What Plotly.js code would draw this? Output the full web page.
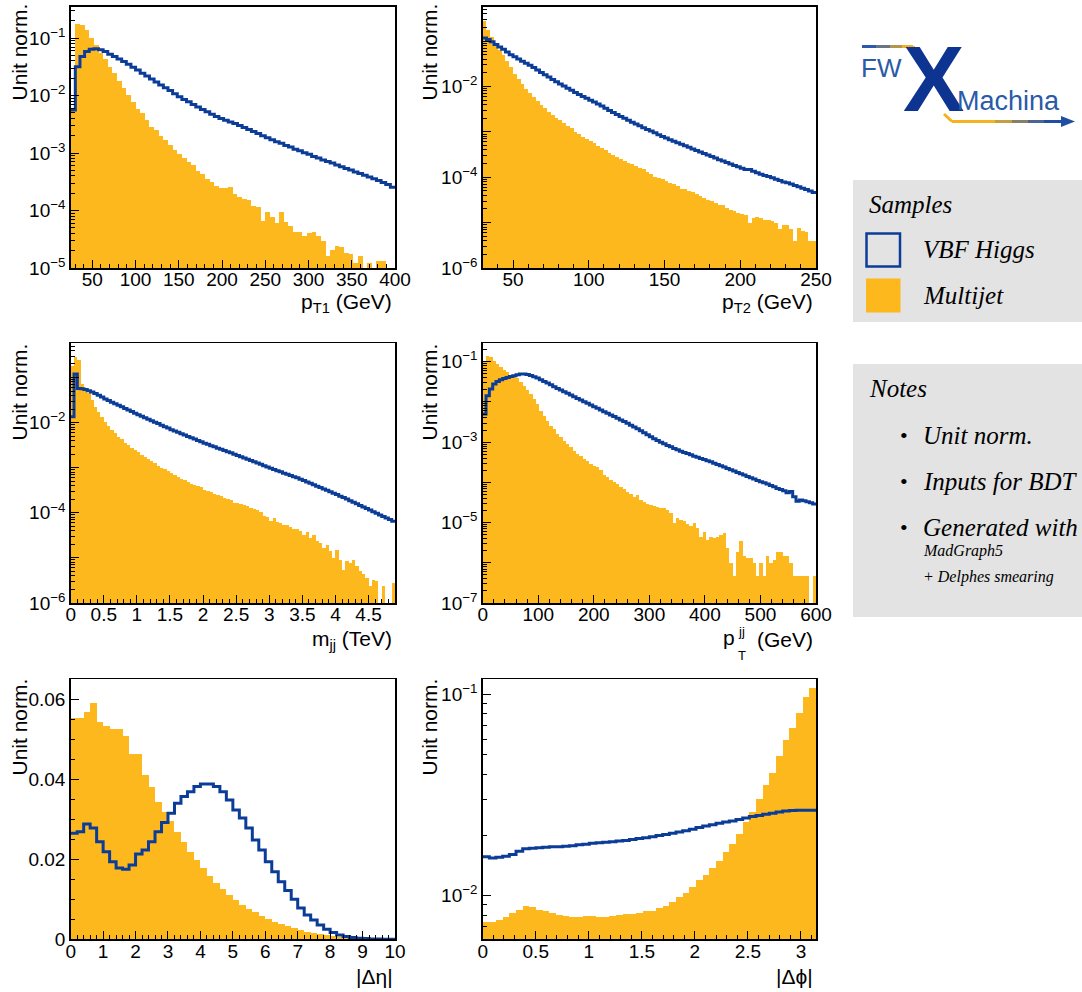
<!DOCTYPE html>
<html><head><meta charset="utf-8">
<script src="https://cdn.plot.ly/plotly-3.0.1.min.js"></script>
<style>html,body{margin:0;padding:0;background:#fff}#chart{width:1082px;height:992px}</style>
</head><body><div id="chart"></div>
<script>
// ---------------- data (unit-normalised histogram contents) ----------------
const pt1Range = [25, 400];
const pt1Multijet = [0.006, 0.176, 0.17, 0.138, 0.1, 0.0764, 0.056, 0.043, 0.032, 0.0244,
 0.0179, 0.0133, 0.0102, 0.0076, 0.0058, 0.0049, 0.0037, 0.00285, 0.0025, 0.002,
 0.00167, 0.0014, 0.00111, 0.00097, 0.00082, 0.0007, 0.00061, 0.00048, 0.00043, 0.00036,
 0.00031, 0.00027, 0.000244, 0.000244, 0.000254, 0.000194, 0.00017, 0.000159, 0.000153, 0.000122,
 0.000114, 0.000066, 0.000093, 0.000076, 0.00006, 0.000093, 0.000062, 0.000053, 0.000043, 0.000043,
 0.000036, 0.00004, 0.000043, 0.000036, 0.000029, 0.0000162, 0.0000207, 0.0000243, 0.000023, 0.000018,
 0.0000175, 0.000012, 0.000016, null, 0.000012, null, 0.0000135, 0.0000135, null, null];
const pt1VBF = [0.0056, 0.0319, 0.0478, 0.0585, 0.0642, 0.065, 0.0625, 0.0585, 0.0525, 0.0478,
 0.0435, 0.0391, 0.0351, 0.0311, 0.0279, 0.0244, 0.0219, 0.0194, 0.0172, 0.0153,
 0.0137, 0.0122, 0.0108, 0.00955, 0.00857, 0.0078, 0.007, 0.0063, 0.00573, 0.00521,
 0.00475, 0.00432, 0.00399, 0.00373, 0.00348, 0.00326, 0.00301, 0.00277, 0.00256, 0.00236,
 0.00218, 0.00201, 0.00185, 0.00171, 0.00158, 0.00148, 0.00136, 0.00127, 0.00117, 0.0011,
 0.00101, 0.00095, 0.00087, 0.00082, 0.00076, 0.00071, 0.00067, 0.00062, 0.00058, 0.00054,
 0.000505, 0.00047, 0.00044, 0.00041, 0.000385, 0.000356, 0.000333, 0.000307, 0.000283, 0.000255];

const pt2Range = [30, 250];
const pt2Multijet = [0.28, 0.18, 0.124, 0.091, 0.063, 0.05, 0.0358, 0.0268, 0.019, 0.015,
 0.0115, 0.0089, 0.0072, 0.0058, 0.0049, 0.0039, 0.0034, 0.0028, 0.00236, 0.00199,
 0.00183, 0.00154, 0.00137, 0.00122, 0.00101, 0.000895, 0.000755, 0.000694, 0.000627, 0.000556,
 0.000494, 0.000439, 0.000396, 0.000346, 0.000312, 0.000282, 0.000255, 0.000226, 0.000207, 0.000194,
 0.000175, 0.000158, 0.00015, 0.000133, 0.000121, 0.000104, 0.000098, 0.00009, 0.000083, 0.000076,
 0.00007, 0.000064, 0.000054, 0.000056, 0.00005, 0.000047, 0.000042, 0.000039, 0.0000355, 0.000031,
 0.00003, 0.0000275, 0.000025, 0.000024, 0.000021, 0.000019, 0.000018, 0.0000165, 0.0000152, 0.0000144,
 0.0000099, 0.0000128, 0.0000132, 0.0000124, 0.0000117, 0.0000112, 0.0000108, 0.0000099, 0.0000071, 0.0000088,
 0.0000088, 0.0000071, 0.0000039, 0.0000077, 0.0000065, 0.0000063, 0.0000039, 0.000004];
const pt2VBF = [0.1175, 0.1096, 0.0977, 0.0851, 0.0741, 0.0661, 0.0575, 0.0501, 0.0452, 0.0407,
 0.0363, 0.0327, 0.0295, 0.0263, 0.0232, 0.0204, 0.0182, 0.0162, 0.0143, 0.0127,
 0.01135, 0.01023, 0.00923, 0.00832, 0.00741, 0.00668, 0.00603, 0.0055, 0.00501, 0.00457,
 0.00412, 0.00372, 0.00331, 0.00295, 0.00269, 0.00243, 0.00219, 0.002, 0.0018, 0.00164,
 0.0015, 0.00136, 0.00124, 0.00113, 0.00105, 0.000955, 0.000871, 0.000794, 0.000733, 0.000676,
 0.000624, 0.000575, 0.000537, 0.000495, 0.000457, 0.000422, 0.000389, 0.000363, 0.000335, 0.000309,
 0.000288, 0.000266, 0.000245, 0.000229, 0.000211, 0.000195, 0.000182, 0.00017, 0.000158, 0.000148,
 0.000148, 0.000135, 0.000126, 0.000117, 0.00011, 0.000104, 0.000098, 0.000091, 0.000085, 0.000079,
 0.000076, 0.000071, 0.000066, 0.000062, 0.0000575, 0.000054, 0.00005, 0.000046];

const mjjRange = [0, 4.9];
const mjjMultijet = [0.18, 0.286, 0.241, 0.0738, 0.0571, 0.0444, 0.0316, 0.0225, 0.0175, 0.0136,
 0.0105, 0.00844, 0.00689, 0.00582, 0.00491, 0.00429, 0.00362, 0.00321, 0.00272, 0.00249,
 0.00218, 0.00194, 0.00172, 0.00155, 0.00138, 0.00127, 0.00111, 0.001, 0.000935, 0.00083,
 0.000762, 0.000701, 0.000622, 0.000562, 0.000526, 0.000474, 0.000444, 0.000415, 0.000387, 0.000375,
 0.000327, 0.000301, 0.000286, 0.000267, 0.000254, 0.000233, 0.000214, 0.000204, 0.000197, 0.000166,
 0.000167, 0.000153, 0.000146, 0.000141, 0.000125, 0.000119, 0.000113, 0.000104, 0.000087, 0.000082,
 0.000065, 0.000077, 0.000062, 0.00006, 0.000055, 0.000053, 0.000049, 0.000043, 0.000044, 0.0000405,
 0.000033, 0.000037, 0.000028, 0.000033, 0.0000235, 0.0000215, 0.0000167, 0.0000198, 0.0000141, 0.00001,
 0.0000153, 0.0000092, 0.0000055, 0.0000084, 0.0000077, 0.0000092, 0.0000065, 0.0000051, 0.0000043, 0.0000036,
 0.0000024, 0.0000033, 0.000003, null, 0.0000024, null, null, 0.0000028];
const mjjVBF = [0.0135, 0.12, 0.0575, 0.0562, 0.0543, 0.0513, 0.0479, 0.0442, 0.0407, 0.0372,
 0.0335, 0.0309, 0.0285, 0.0263, 0.0243, 0.0224, 0.0207, 0.0191, 0.0176, 0.0162,
 0.015, 0.0138, 0.0129, 0.0119, 0.011, 0.0102, 0.00955, 0.00881, 0.00813, 0.00759,
 0.007, 0.00653, 0.0061, 0.00569, 0.00531, 0.00495, 0.00462, 0.00432, 0.00403, 0.00376,
 0.00351, 0.00331, 0.00309, 0.00292, 0.00272, 0.00257, 0.0024, 0.00226, 0.00214, 0.002,
 0.00188, 0.00176, 0.00164, 0.00155, 0.00145, 0.00135, 0.00127, 0.00119, 0.00111, 0.00104,
 0.000977, 0.000912, 0.000861, 0.000813, 0.000759, 0.000716, 0.000676, 0.000631, 0.000596, 0.000556,
 0.000519, 0.000484, 0.000452, 0.000422, 0.000389, 0.000363, 0.000339, 0.000316, 0.000295, 0.000272,
 0.000254, 0.000234, 0.000219, 0.000202, 0.000186, 0.000172, 0.000158, 0.000146, 0.000135, 0.000124,
 0.000115, 0.000106, 0.000098, 0.00009, 0.000083, 0.000077, 0.000071, 0.000065];

const ptjjRange = [0, 600];
const ptjjMultijet = [0.106, 0.141, 0.133, 0.106, 0.0875, 0.0724, 0.0621, 0.0544, 0.0476, 0.0425,
 0.0394, 0.0308, 0.0254, 0.0199, 0.0158, 0.0119, 0.0089, 0.0061, 0.00458, 0.00344,
 0.00259, 0.00214, 0.00161, 0.00133, 0.0011, 0.00091, 0.000752, 0.000621, 0.000514, 0.000441,
 0.000386, 0.000338, 0.000279, 0.000249, 0.00024, 0.000199, 0.000149, 0.000136, 0.000116, 0.000102,
 0.000089, 0.000077, 0.00007, 0.0000575, 0.000052, 0.000043, 0.000048, 0.000036, 0.0000325, 0.0000296,
 0.0000274, 0.0000264, 0.0000249, 0.0000236, 0.0000226, 0.0000206, 0.0000177, 0.00001, 0.0000128, 0.0000116,
 0.0000112, 0.0000093, 0.000008, 0.0000096, 0.0000072, 0.0000045, 0.000006, 0.0000037, 0.0000045, 0.0000041,
 0.0000045, 0.0000049, 0.0000054, 0.0000023, 0.00000098, 0.00000046, 0.0000019, 0.0000034, 0.00000144, 0.0000013,
 0.0000013, 0.00000098, 0.00000046, 0.00000098, 0.00000046, 0.00000144, 0.00000098, 0.00000119, 0.0000019, 0.0000019,
 0.00000144, 0.00000144, 0.00000098, 0.00000046, 0.00000046, 0.00000046, 0.00000046, 0.00000046, null, 0.00000046];
const ptjjVBF = [0.005, 0.0144, 0.021, 0.028, 0.0325, 0.0358, 0.0386, 0.0409, 0.0433, 0.045,
 0.0476, 0.0494, 0.0494, 0.0484, 0.0458, 0.0425, 0.0394, 0.0358, 0.0325, 0.0296,
 0.0269, 0.024, 0.0218, 0.0199, 0.018, 0.0164, 0.0149, 0.0136, 0.0123, 0.0112,
 0.0102, 0.00927, 0.00843, 0.00766, 0.00697, 0.00634, 0.00575, 0.00524, 0.00476, 0.00433,
 0.00394, 0.00358, 0.00325, 0.00296, 0.00265, 0.0024, 0.00215, 0.00193, 0.00172, 0.00153,
 0.00137, 0.00121, 0.0011, 0.001, 0.00091, 0.000826, 0.000766, 0.000697, 0.000646, 0.000598,
 0.000555, 0.000524, 0.000485, 0.00045, 0.000425, 0.000394, 0.000372, 0.000344, 0.000325, 0.000301,
 0.000279, 0.000259, 0.00024, 0.000222, 0.000206, 0.000191, 0.000177, 0.000164, 0.000152, 0.000141,
 0.000131, 0.000121, 0.000112, 0.000104, 0.000098, 0.000091, 0.000084, 0.000078, 0.000071, 0.000067,
 0.000062, 0.000055, 0.000059, 0.000044, 0.000034, 0.0000365, 0.000035, 0.000033, 0.000031, 0.000029];

const detaRange = [0, 10];
const detaMultijet = [0.05525, 0.05525, 0.0569, 0.059, 0.0544, 0.0532, 0.0525, 0.0525, 0.0508, 0.0463,
 0.0464, 0.0411, 0.038, 0.0344, 0.0319, 0.0296, 0.0269, 0.0244, 0.0219, 0.0197,
 0.0178, 0.0158, 0.014, 0.0125, 0.0111, 0.0098, 0.0086, 0.0075, 0.0067, 0.0058,
 0.005, 0.0043, 0.0038, 0.0033, 0.0028, 0.0023, 0.0018, 0.0015, 0.00125, 0.001,
 0.00075, 0.0006, 0.00042, 0.00033, 0.00025, 0.00017, 0.00012, 0.00008, 0.00005, 0.00003];
const detaVBF = [0.0265, 0.0269, 0.0288, 0.0278, 0.0244, 0.0219, 0.0194, 0.0178, 0.0175, 0.0186,
 0.0213, 0.0223, 0.0244, 0.0269, 0.0292, 0.0315, 0.034, 0.0357, 0.0369, 0.0382,
 0.0388, 0.0388, 0.0382, 0.0369, 0.0348, 0.0323, 0.0303, 0.0278, 0.0248, 0.0223,
 0.0194, 0.0169, 0.0144, 0.0122, 0.01, 0.0078, 0.0061, 0.0048, 0.0036, 0.0025,
 0.0017, 0.0011, 0.00067, 0.00042, 0.00025, 0.00017, 0.0001, 0.0001, 0.00004, 0.00004];

const dphiRange = [0, Math.PI];
const dphiMultijet = [0.00743, 0.00743, 0.0076, 0.00787, 0.00817, 0.00849, 0.00889, 0.00875, 0.00849, 0.00834,
 0.00817, 0.00802, 0.00793, 0.00787, 0.00787, 0.00793, 0.00793, 0.00787, 0.00787, 0.00793,
 0.00802, 0.00807, 0.00807, 0.00817, 0.00834, 0.00834, 0.00871, 0.00889, 0.00933, 0.00982,
 0.0103, 0.011, 0.012, 0.0127, 0.0137, 0.0148, 0.0164, 0.0181, 0.0202, 0.0231,
 0.0261, 0.0301, 0.0355, 0.0405, 0.0494, 0.0593, 0.0678, 0.0811, 0.0973, 0.108];
const dphiVBF = [0.0156, 0.0154, 0.0155, 0.0157, 0.016, 0.0166, 0.0171, 0.0172, 0.0173, 0.0174,
 0.0175, 0.0175, 0.0176, 0.0177, 0.0179, 0.018, 0.0182, 0.0183, 0.0184, 0.0185,
 0.0187, 0.0188, 0.019, 0.0192, 0.0194, 0.0196, 0.0199, 0.0201, 0.0204, 0.0207,
 0.021, 0.0214, 0.0218, 0.0222, 0.0225, 0.0229, 0.0232, 0.0235, 0.0239, 0.0243,
 0.0247, 0.025, 0.0254, 0.0257, 0.026, 0.0263, 0.0265, 0.0266, 0.0266, 0.0266];

const sampleNames = ['VBF Higgs', 'Multijet'];
const notes = ['Unit norm.', 'Inputs for BDT', 'Generated with'];
const notesSmall = ['MadGraph5', '+ Delphes smearing'];

// ---------------- styling / layout ----------------
const W = 1082, H = 992;
const FX = v => v / W;
const FY = v => 1 - v / H;
const ORANGE = '#fdb81e', BLUE = '#0b3c97', GREY = '#e3e3e3';
const SANS = 'Liberation Sans, Arial, Helvetica, sans-serif';
const SERIF = 'Liberation Serif, Times New Roman, serif';
const cols = [[70.7, 395], [482.7, 816]];
const rows = [[6.5, 268], [343.3, 603], [679.3, 939.3]];

const panels = [
  {mj: pt1Multijet, vbf: pt1VBF, range: pt1Range, col: 0, row: 0, log: true, yr: [-5, -0.45], every: 1, odd: false, dt: 50, mdt: 10},
  {mj: pt2Multijet, vbf: pt2VBF, range: pt2Range, col: 1, row: 0, log: true, yr: [-6, -0.235], every: 2, odd: false, dt: 50, mdt: 10},
  {mj: mjjMultijet, vbf: mjjVBF, range: mjjRange, col: 0, row: 1, log: true, yr: [-6, -0.24], every: 2, odd: false, dt: 0.5, mdt: 0.1},
  {mj: ptjjMultijet, vbf: ptjjVBF, range: ptjjRange, col: 1, row: 1, log: true, yr: [-7, -0.54], every: 2, odd: true, dt: 100, mdt: 20},
  {mj: detaMultijet, vbf: detaVBF, range: detaRange, col: 0, row: 2, log: false, yr: [0, 0.065], dt: 1, mdt: 0.2},
  {mj: dphiMultijet, vbf: dphiVBF, range: dphiRange, col: 1, row: 2, log: true, yr: [-2.217, -0.925], every: 1, odd: false, dt: 0.5, mdt: 0.1}
];

const traces = [];
const layout = {
  width: W, height: H, margin: {l: 0, r: 0, t: 0, b: 0},
  paper_bgcolor: '#fff', plot_bgcolor: '#fff', showlegend: false,
  bargap: 0, barmode: 'overlay', font: {family: SANS, color: '#000'},
  annotations: [], shapes: []
};

function axisBase() {
  return {showline: true, linecolor: '#000', linewidth: 1.5, mirror: true,
    ticks: 'inside', ticklen: 8, tickwidth: 1, tickcolor: '#000',
    showgrid: false, zeroline: false, fixedrange: true,
    tickfont: {family: SANS, size: 19, color: '#000'}};
}

panels.forEach((p, i) => {
  const id = i === 0 ? '' : String(i + 1);
  const n = p.vbf.length;
  const w = (p.range[1] - p.range[0]) / n;
  const centers = [], edges = [];
  for (let k = 0; k < n; k++) { centers.push(p.range[0] + w * (k + 0.5)); edges.push(p.range[0] + w * k); }
  edges.push(p.range[1]);
  traces.push({type: 'bar', x: centers, y: p.mj, width: w, marker: {color: ORANGE, line: {width: 0}},
    xaxis: 'x' + id, yaxis: 'y' + id, hoverinfo: 'skip'});
  traces.push({type: 'scatter', mode: 'lines', x: edges, y: p.vbf.concat([p.vbf[n - 1]]),
    line: {color: BLUE, width: 3, shape: 'hv'}, xaxis: 'x' + id, yaxis: 'y' + id, hoverinfo: 'skip'});

  const xa = Object.assign(axisBase(), {
    domain: [FX(cols[p.col][0]), FX(cols[p.col][1])], range: p.range, anchor: 'y' + id,
    tickmode: 'linear', tick0: 0, dtick: p.dt, ticklabelstandoff: -6,
    minor: {tickmode: 'linear', tick0: 0, dtick: p.mdt, ticks: 'inside', ticklen: 4, tickcolor: '#000', tickwidth: 1}
  });
  const ya = Object.assign(axisBase(), {
    domain: [FY(rows[p.row][1]), FY(rows[p.row][0])], anchor: 'x' + id, range: p.yr
  });
  if (p.log) {
    ya.type = 'log';
    const tv = [], tt = [], mv = [];
    for (let d = Math.floor(p.yr[0]); d <= Math.ceil(p.yr[1]); d++) {
      if (d >= p.yr[0] - 1e-9 && d <= p.yr[1]) {
        tv.push(Math.pow(10, d));
        const lab = p.every === 1 || (p.odd ? Math.abs(d) % 2 === 1 : Math.abs(d) % 2 === 0);
        tt.push(lab ? '10<sup>\u2212' + Math.abs(d) + '</sup>' : '');
      }
      for (let m = 2; m <= 9; m++) {
        const v = m * Math.pow(10, d);
        const lv = Math.log10(v);
        if (lv > p.yr[0] && lv < p.yr[1]) mv.push(v);
      }
    }
    ya.tickmode = 'array'; ya.tickvals = tv; ya.ticktext = tt;
    ya.minor = {tickmode: 'array', tickvals: mv, ticks: 'inside', ticklen: 4, tickcolor: '#000', tickwidth: 1};
  } else {
    ya.type = 'linear'; ya.tickmode = 'linear'; ya.tick0 = 0; ya.dtick = 0.02;
    ya.minor = {tickmode: 'linear', tick0: 0, dtick: 0.005, ticks: 'inside', ticklen: 4, tickcolor: '#000', tickwidth: 1};
  }
  layout['xaxis' + id] = xa;
  layout['yaxis' + id] = ya;
});

// ---------------- axis titles ----------------
function ann(text, x, y, o) {
  layout.annotations.push(Object.assign({text: text, x: FX(x), y: FY(y), xref: 'paper', yref: 'paper',
    showarrow: false, xanchor: 'left', yanchor: 'middle', font: {family: SANS, size: 21, color: '#000'}}, o || {}));
}
[[19, 2], [429, 2], [19, 342], [429, 342], [19, 677], [429, 677]].forEach(([x, y]) =>
  ann('Unit norm.', x, y, {textangle: -90, xanchor: 'center', yanchor: 'top'}));
ann('p<sub>T1</sub> (GeV)', 394, 303, {xanchor: 'right'});
ann('p<sub>T2</sub> (GeV)', 815, 303, {xanchor: 'right'});
ann('m<sub>jj</sub> (TeV)', 394, 640, {xanchor: 'right'});
ann('(GeV)', 815, 639, {xanchor: 'right'});
ann('p', 737, 637, {xanchor: 'right'});
ann('jj', 736, 631, {xanchor: 'left', font: {family: SANS, size: 13, color: '#000'}});
ann('T', 736, 655, {xanchor: 'left', font: {family: SANS, size: 13, color: '#000'}});
ann('|\u0394\u03b7|', 395, 976, {xanchor: 'right'});
ann('|\u0394\u03d5|', 815, 976, {xanchor: 'right'});

// ---------------- legend / notes panel ----------------
function rect(x0, y0, x1, y1, o) {
  layout.shapes.push(Object.assign({type: 'rect', xref: 'paper', yref: 'paper',
    x0: FX(x0), x1: FX(x1), y0: FY(y1), y1: FY(y0), line: {width: 0}, layer: 'below'}, o || {}));
}
function seg(x0, y0, x1, y1, color, width) {
  layout.shapes.push({type: 'line', xref: 'paper', yref: 'paper', x0: FX(x0), y0: FY(y0), x1: FX(x1), y1: FY(y1),
    line: {color: color, width: width || 3}});
}
rect(853, 180, 1082, 322, {fillcolor: GREY});
rect(853, 364, 1082, 617, {fillcolor: GREY});
rect(866.5, 233.5, 900, 266.5, {fillcolor: GREY, line: {color: BLUE, width: 2.5}, layer: 'above'});
rect(866, 278.5, 900.5, 312.5, {fillcolor: ORANGE, layer: 'above'});
const it = t => '<i>' + t + '</i>';
ann(it('Samples'), 867, 204, {font: {family: SERIF, size: 25, color: '#000'}});
ann(it(sampleNames[0]), 921, 250, {font: {family: SERIF, size: 25, color: '#000'}});
ann(it(sampleNames[1]), 921, 296, {font: {family: SERIF, size: 25, color: '#000'}});
ann(it('Notes'), 867, 389, {font: {family: SERIF, size: 25, color: '#000'}});
[436, 481, 527].forEach((y, k) => {
  ann('\u2022', 898, y, {font: {family: SERIF, size: 22, color: '#000'}});
  ann(it(notes[k]), 921, y, {font: {family: SERIF, size: 25, color: '#000'}});
});
ann(it(notesSmall[0]), 921, 551, {font: {family: SERIF, size: 16, color: '#000'}});
ann(it(notesSmall[1]), 921, 577, {font: {family: SERIF, size: 16, color: '#000'}});

// logo
seg(862, 46.5, 876, 46.5, '#2c5aa8');
seg(876, 46.5, 890, 46.5, '#6a7488');
seg(890, 46.5, 902, 46.5, '#b5954e');
seg(902, 46.5, 913, 46.5, '#efb024');
seg(913, 46.5, 924, 60, '#f3b21e');
seg(944, 114, 952, 121.5, '#f3b21e');
seg(952, 121.5, 995, 121.5, '#f3b21e');
seg(995, 121.5, 1012, 121.5, '#c69d3f');
seg(1012, 121.5, 1028, 121.5, '#877f66');
seg(1028, 121.5, 1044, 121.5, '#4a6592');
seg(1044, 121.5, 1064, 121.5, '#1f4ea3');
layout.shapes.push({type: 'path', xref: 'paper', yref: 'paper',
  path: 'M ' + FX(1061) + ' ' + FY(116) + ' L ' + FX(1075) + ' ' + FY(121.5) + ' L ' + FX(1061) + ' ' + FY(127) + ' Z',
  fillcolor: '#1f4ea3', line: {width: 0}});
ann('FW', 860, 68, {font: {family: SANS, size: 26, color: '#2a5aa8'}, borderpad: 0});
ann('<b>X</b>', 933, 79, {xanchor: 'center', font: {family: SANS, size: 92, color: '#0d3490'}, borderpad: 0});
ann('Machina', 956, 101, {font: {family: SANS, size: 27, color: '#2a5aa8'}, borderpad: 0});

Plotly.newPlot('chart', traces, layout, {staticPlot: true});
</script>
</body></html>
